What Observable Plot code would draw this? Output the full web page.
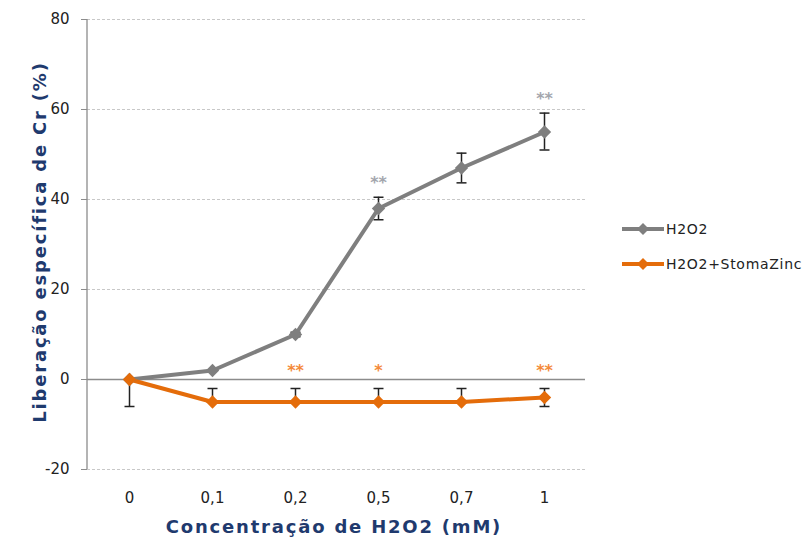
<!DOCTYPE html>
<html><head><meta charset="utf-8">
<script src="https://cdn.jsdelivr.net/npm/d3@7"></script>
<script src="https://cdn.jsdelivr.net/npm/@observablehq/plot@0.6"></script>
<style>
body{margin:0;background:#fff;font-family:"DejaVu Sans",Verdana,sans-serif}
#wrap{position:relative;width:811px;height:541px}
#legend{position:absolute;left:620px;top:211px;font-size:14px;letter-spacing:0.7px;color:#222}
#legend div{display:flex;align-items:center;height:35px}
</style></head>
<body><div id="wrap"><div id="legend"></div></div>
<script>
const concentrations = ["0","0,1","0,2","0,5","0,7","1"];
const h2o2 = [0, 2, 10, 38, 47, 55];
const h2o2ErrUp = [0, 0, 0.5, 2.5, 3.3, 4.2];
const h2o2ErrDown = [0, 0, 0.5, 2.5, 3.3, 4];
const stoma = [0, -5, -5, -5, -5, -4];
const stomaErrUp = [0, 3, 3, 3, 3, 2];
const stomaErrDown = [6, 0, 0, 0, 0, 2];
const h2o2Stars = ["", "", "", "**", "", "**"];
const stomaStars = ["", "", "**", "*", "", "**"];
const yTicks = [-20, 0, 20, 40, 60, 80];
const seriesNames = ["H2O2", "H2O2+StomaZinc"];
const colors = ["#7f7f7f", "#e46c0a"];
const starColors = ["#a3a6ad", "#f48a3a"];

const rows = [];
concentrations.forEach((c, i) => {
  rows.push({c, s: seriesNames[0], v: h2o2[i], lo: h2o2[i] - h2o2ErrDown[i], hi: h2o2[i] + h2o2ErrUp[i], star: h2o2Stars[i]});
  rows.push({c, s: seriesNames[1], v: stoma[i], lo: stoma[i] - stomaErrDown[i], hi: stoma[i] + stomaErrUp[i], star: stomaStars[i]});
});
const errRows = rows.filter(d => d.hi - d.lo > 0.01);
const capRows = [];
errRows.forEach(d => {
  if (d.hi > d.v + 0.01) capRows.push({c: d.c, y: d.hi});
  if (d.lo < d.v - 0.01) capRows.push({c: d.c, y: d.lo});
});
const h2o2Rows = rows.filter(d => d.s === seriesNames[0]);
const stomaRows = rows.filter(d => d.s === seriesNames[1]);
const capSymbol = {draw(ctx) { ctx.moveTo(-5, 0); ctx.lineTo(5, 0); }};

const font = '"DejaVu Sans", Verdana, sans-serif';
const chart = Plot.plot({
  width: 811, height: 541,
  marginLeft: 87, marginRight: 226, marginTop: 19, marginBottom: 72,
  style: {fontFamily: font, fontSize: "14px", color: "#222", background: "white"},
  x: {type: "point", domain: concentrations, padding: 0.5, label: null},
  y: {domain: [-20, 80], label: null},
  marks: [
    Plot.ruleY(yTicks.filter(t => t !== 0), {stroke: "#c8c8c8", strokeDasharray: "3,2", strokeWidth: 1}),
    Plot.ruleY([0], {stroke: "#8c8c8c", strokeWidth: 1.3}),
    Plot.axisY({ticks: yTicks, tickFormat: d => String(d), tickSize: 6, tickPadding: 12, fontSize: 15, stroke: "#8c8c8c", label: null}),
    Plot.axisX({tickSize: 0, tickPadding: 23, fontSize: 15, label: null}),
    Plot.ruleX(errRows, {x: "c", y1: "lo", y2: "hi", stroke: "#222", strokeWidth: 1.5}),
    Plot.dot(capRows, {x: "c", y: "y", symbol: capSymbol, stroke: "#222", strokeWidth: 1.5, fill: "none"}),
    Plot.line(h2o2Rows, {x: "c", y: "v", stroke: colors[0], strokeWidth: 4}),
    Plot.line(stomaRows, {x: "c", y: "v", stroke: colors[1], strokeWidth: 4}),
    Plot.dot(h2o2Rows, {x: "c", y: "v", symbol: "diamond2", fill: colors[0], r: 6}),
    Plot.dot(stomaRows, {x: "c", y: "v", symbol: "diamond2", fill: colors[1], r: 6}),
    Plot.text(h2o2Rows.filter(d => d.star), {x: "c", y: d => d.hi, text: "star", dy: -14, fill: starColors[0], fontSize: 16, fontWeight: "bold"}),
    Plot.text(stomaRows.filter(d => d.star), {x: "c", y: 0, text: "star", dy: -9, fill: starColors[1], fontSize: 16, fontWeight: "bold"})
  ]
});
const svg = d3.select(chart);
svg.append("line").attr("x1", 87).attr("x2", 87).attr("y1", 19).attr("y2", 469).attr("stroke", "#8c8c8c").attr("stroke-width", 1.3);
svg.append("text").attr("transform", "translate(46,242) rotate(-90)").attr("text-anchor", "middle")
  .attr("fill", "#1f3a6e").attr("font-weight", "bold").attr("font-size", 18).attr("letter-spacing", "1.8px").attr("font-family", font)
  .text("Liberação específica de Cr (%)");
svg.append("text").attr("x", 334).attr("y", 533).attr("text-anchor", "middle")
  .attr("fill", "#1f3a6e").attr("font-weight", "bold").attr("font-size", 18).attr("letter-spacing", "1.8px").attr("font-family", font)
  .text("Concentração de H2O2 (mM)");
const wrap = document.getElementById("wrap");
wrap.insertBefore(chart, wrap.firstChild);
const leg = document.getElementById("legend");
seriesNames.forEach((n, i) => {
  const row = document.createElement("div");
  row.innerHTML = `<svg width="46" height="14"><line x1="2" x2="44" y1="7" y2="7" stroke="${colors[i]}" stroke-width="4"/><path d="M23,1 L29,7 L23,13 L17,7Z" fill="${colors[i]}"/></svg><span style="margin-left:0px">${n}</span>`;
  leg.appendChild(row);
});
</script></body></html>
